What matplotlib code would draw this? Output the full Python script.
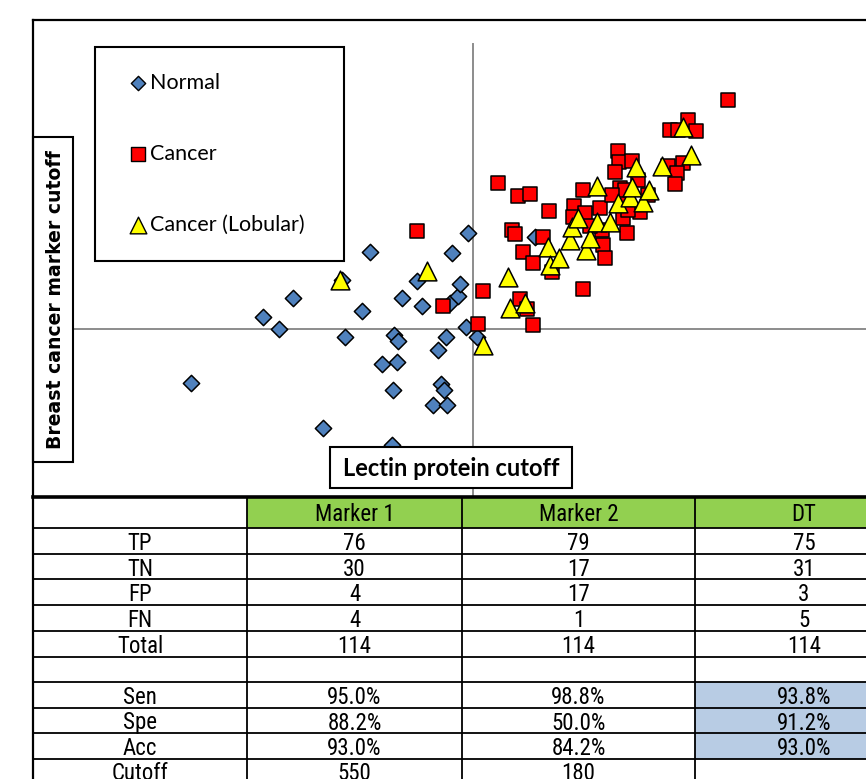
import matplotlib
matplotlib.use('Agg')
import matplotlib.pyplot as plt
from matplotlib.patches import Rectangle
from matplotlib import font_manager as fm

# ---------------- data ----------------
normal_x = [191, 263, 279, 293, 323, 345, 362, 370, 342, 392, 394, 398, 397, 382, 393,
            402, 417, 422, 433, 447, 441, 444, 438, 446, 452, 450, 458, 460, 468, 466,
            477, 535, 625]
normal_y = [383, 317, 329, 298, 428, 337, 311, 252, 280, 445, 335, 341, 362, 364, 390,
            298, 281, 306, 405, 405, 384, 390, 350, 337, 253, 303, 296, 284, 233, 327,
            337, 237, 205]

cancer_x = [728, 688, 670, 678, 696, 618, 619, 632, 668, 683, 677, 675, 615, 498, 518,
            530, 549, 583, 574, 573, 585, 600, 620, 623, 638, 623, 627, 603, 605, 602,
            512, 515, 543, 523, 533, 552, 583, 483, 520, 527, 533, 478, 417, 443, 648,
            625, 590, 640, 628, 612]
cancer_y = [100, 120, 130, 130, 131, 151, 162, 161, 166, 163, 173, 184, 172, 183, 196,
            194, 211, 190, 206, 217, 213, 208, 188, 202, 180, 218, 233, 245, 258, 230,
            230, 234, 237, 252, 263, 272, 289, 291, 299, 309, 325, 324, 231, 306, 195,
            190, 226, 212, 210, 195]

lobular_x = [340, 427, 483, 508, 510, 525, 548, 550, 559, 570, 572, 578, 586, 590, 597,
             597, 610, 618, 630, 632, 636, 643, 649, 662, 683, 691]
lobular_y = [280, 271, 345, 277, 308, 303, 247, 265, 258, 240, 227, 218, 250, 238, 222,
             186, 222, 203, 197, 187, 167, 202, 190, 166, 127, 155]

x_cutoff = 473
y_cutoff = 329

series_names = ['Normal', 'Cancer', 'Cancer (Lobular)']
x_title = 'Lectin protein cutoff'
y_title = 'Breast cancer marker cutoff'

col_headers = ['Marker 1', 'Marker 2', 'DT']
row_labels = ['TP', 'TN', 'FP', 'FN', 'Total', '', 'Sen', 'Spe', 'Acc', 'Cutoff']
tp = [76, 79, 75]
tn = [30, 17, 31]
fp = [4, 17, 3]
fn = [4, 1, 5]
total = [114, 114, 114]
sen = [95.0, 98.8, 93.8]
spe = [88.2, 50.0, 91.2]
acc = [93.0, 84.2, 93.0]
cutoff = [550, 180, None]

# ---------------- fonts ----------------
def avail(name):
    try:
        fm.findfont(fm.FontProperties(family=name), fallback_to_default=False)
        return True
    except Exception:
        return False


BAD = ('bold', 'italic', 'oblique', 'light', 'semi', 'extra', 'medium', 'thin', 'black')


def find_narrow():
    prefs = ['liberation sans narrow', 'arial narrow', 'roboto condensed',
             'open sans condensed', 'noto sans condensed', 'dejavu sans condensed']
    entries = fm.fontManager.ttflist
    for p in prefs:
        for f in entries:
            if (f.name.lower() == p and f.style == 'normal'
                    and f.weight in (400, 'normal', 'regular')
                    and not any(b in f.fname.lower().split('/')[-1] for b in BAD)):
                return fm.FontProperties(fname=f.fname)
    for f in entries:
        nm = f.fname.lower().split('/')[-1]
        if ('narrow' in nm or 'condensed' in nm) and f.style == 'normal' \
                and not any(b in nm for b in BAD):
            return fm.FontProperties(fname=f.fname)
    for f in entries:
        if ('condensed' in f.name.lower() or 'narrow' in f.name.lower()) \
                and f.style == 'normal':
            return fm.FontProperties(family=f.name, style='normal', weight='normal')
    return fm.FontProperties(family='Liberation Sans')


narrow_fp = find_narrow()
calib = 'Lato' if avail('Lato') else 'DejaVu Sans'

# ---------------- figure ----------------
W, H = 866, 779
fig = plt.figure(figsize=(W / 100, H / 100), dpi=100)
ax = fig.add_axes([0, 0, 1, 1])
ax.set_xlim(0, W)
ax.set_ylim(H, 0)
ax.axis('off')

# chart frame
FL, FT, FB = 33, 20, 497
ax.plot([FL, W + 5], [FT, FT], color='black', lw=1.6, zorder=10)
ax.plot([FL, FL], [FT, H + 5], color='black', lw=1.6, zorder=10)
ax.plot([FL, W + 5], [FB, FB], color='black', lw=2.6, zorder=10)

# cutoff lines
ax.plot([x_cutoff, x_cutoff], [44, FB], color='#8c8c8c', lw=1.4, zorder=1)
ax.plot([FL + 5, W + 5], [y_cutoff, y_cutoff], color='#8c8c8c', lw=1.4, zorder=1)

# scatter series
ax.scatter(normal_x, normal_y, marker='D', s=8.3 ** 2, facecolor='#4F81BD',
           edgecolor='black', linewidth=1.1, zorder=3)
ax.scatter(cancer_x, cancer_y, marker='s', s=10.4 ** 2, facecolor='#FF0000',
           edgecolor='black', linewidth=1.1, zorder=4)
ax.scatter(lobular_x, lobular_y, marker='^', s=13.5 ** 2, facecolor='#FFFF00',
           edgecolor='black', linewidth=1.1, zorder=5)

# legend box
ax.add_patch(Rectangle((95, 47), 249, 214, facecolor='white', edgecolor='black',
                       lw=1.5, zorder=6))
leg_y = [83, 154, 225]
leg_style = [dict(marker='D', s=7.3 ** 2, facecolor='#4F81BD'),
             dict(marker='s', s=9.5 ** 2, facecolor='#FF0000'),
             dict(marker='^', s=12 ** 2, facecolor='#FFFF00')]
for name, yy, st in zip(series_names, leg_y, leg_style):
    ax.scatter([138], [yy], edgecolor='black', linewidth=1.0, zorder=7, **st)
    ax.text(150, yy, name, fontsize=15.5, family=calib, va='center', ha='left', zorder=7)

# axis title boxes
ax.add_patch(Rectangle((FL, 137), 40, 325, facecolor='white', edgecolor='black',
                       lw=1.5, zorder=6))
ax.text(56, 300, y_title, rotation=90, fontsize=13.6, fontweight='bold',
        family='DejaVu Sans', ha='center', va='center', zorder=7)
ax.add_patch(Rectangle((330, 447), 242, 41, facecolor='white', edgecolor='black',
                       lw=1.5, zorder=6))
ax.text(451, 468, x_title, fontsize=17, fontweight='bold', family=calib,
        ha='center', va='center', zorder=7)

# ---------------- table ----------------
col_edges = [33, 247, 462, 695, 930]
row_edges = [497, 528, 554, 579, 605, 631, 657, 682, 708, 733, 759, 785]

def pct(v):
    return f'{v:.1f}%'

def num(v):
    return '' if v is None else str(v)

rows = [[num(v) for v in tp], [num(v) for v in tn], [num(v) for v in fp],
        [num(v) for v in fn], [num(v) for v in total], ['', '', ''],
        [pct(v) for v in sen], [pct(v) for v in spe], [pct(v) for v in acc],
        [num(v) for v in cutoff]]

for j in range(3):
    ax.add_patch(Rectangle((col_edges[j + 1], row_edges[0]),
                           col_edges[j + 2] - col_edges[j + 1],
                           row_edges[1] - row_edges[0],
                           facecolor='#92D050', edgecolor='none', zorder=1))
for r in (6, 7, 8):
    ax.add_patch(Rectangle((col_edges[3], row_edges[r + 1]),
                           col_edges[4] - col_edges[3],
                           row_edges[r + 2] - row_edges[r + 1],
                           facecolor='#B8CCE4', edgecolor='none', zorder=1))

for yy in row_edges[1:-1]:
    ax.plot([FL, W + 5], [yy, yy], color='black', lw=1.3, zorder=2)
for xx in col_edges[1:-1]:
    ax.plot([xx, xx], [FB, H + 5], color='black', lw=1.3, zorder=2)

tfs = 16.5
def tcell(x, y, s):
    ax.text(x, y, s, fontproperties=narrow_fp, fontsize=tfs, ha='center',
            va='center', zorder=3)

for j, h in enumerate(col_headers):
    tcell((col_edges[j + 1] + col_edges[j + 2]) / 2 if j < 2 else 804,
          (row_edges[0] + row_edges[1]) / 2 + 2, h)
for i, (lab, vals) in enumerate(zip(row_labels, rows)):
    yc = (row_edges[i + 1] + row_edges[i + 2]) / 2 + (2.5 if i < 9 else 1.5)
    tcell(140, yc, lab)
    for j, v in enumerate(vals):
        xc = (col_edges[j + 1] + col_edges[j + 2]) / 2 if j < 2 else 804
        tcell(xc, yc, v)

fig.savefig('out.png', dpi=100)
